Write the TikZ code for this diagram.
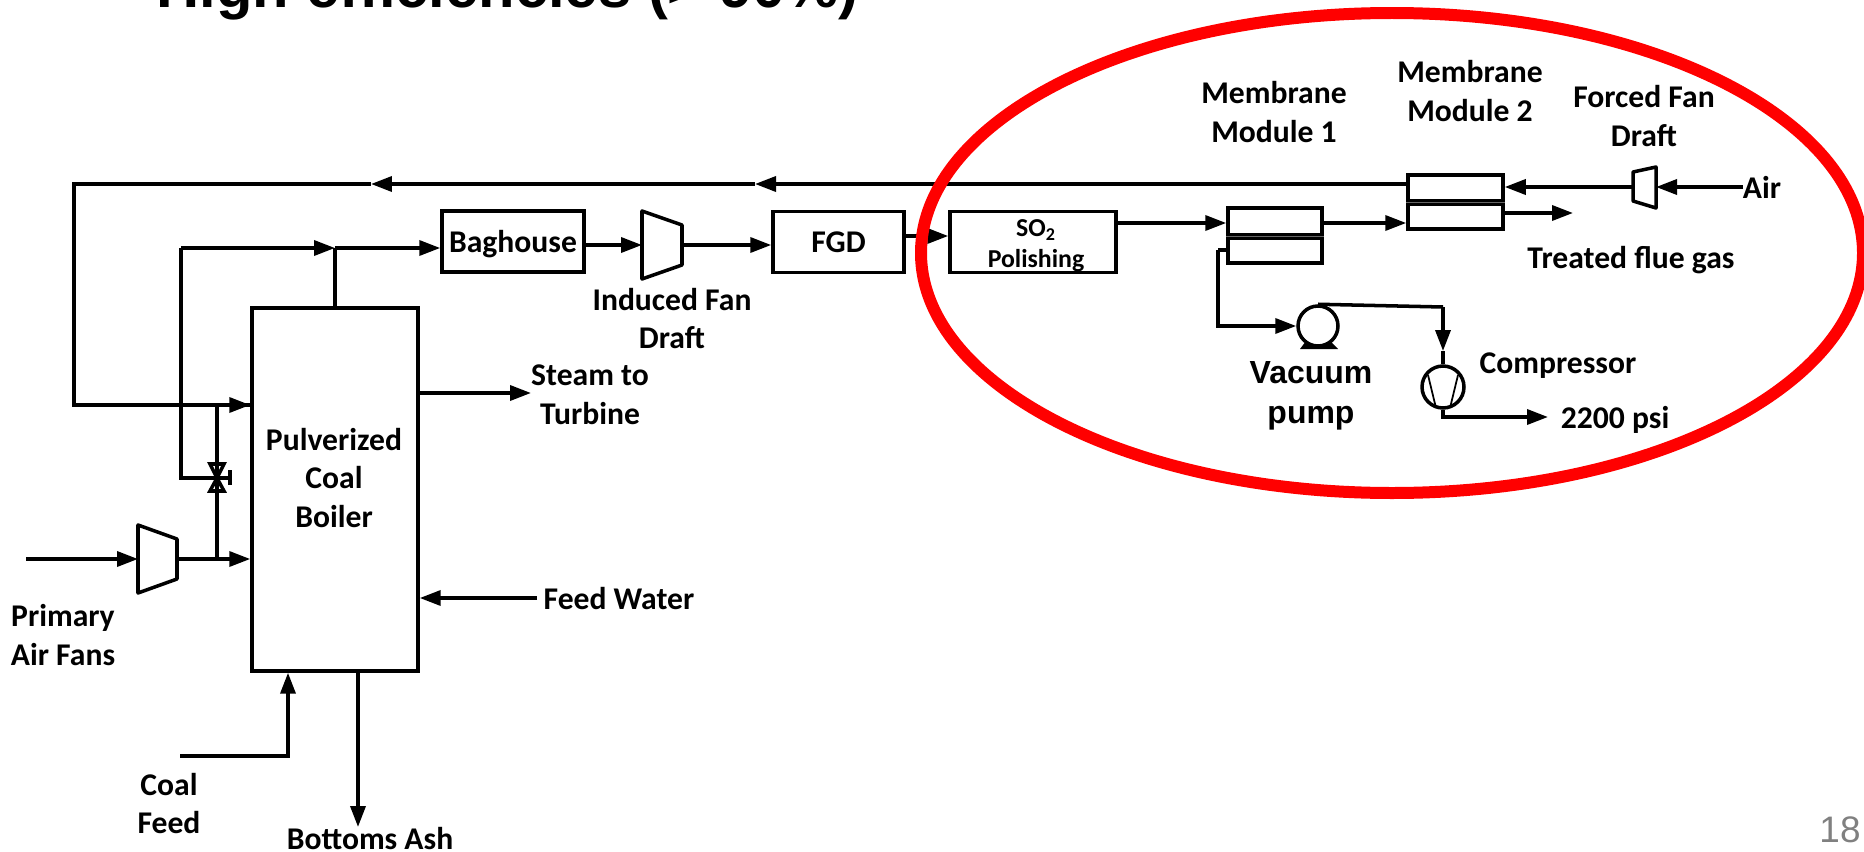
\documentclass[tikz,border=0pt]{standalone}
\usepackage{fontspec}
\setmainfont{Carlito}
\newfontfamily\arialfont{Liberation Sans}
\usetikzlibrary{arrows.meta}
\begin{document}
\begin{tikzpicture}[
  x=0.02cm,y=-0.02cm,
  line width=2pt,
  font=\fontsize{18}{22}\selectfont\bfseries,
  hop/.style={draw,inner sep=0pt,text depth=0pt,minimum height=1.22cm},
  mang/.style={draw,inner sep=0pt},
  nhan/.style={inner sep=0pt,align=center},
  mui/.style={-{Triangle[length=0.42cm,width=0.3cm]}},
  bom/.style={draw,circle,inner sep=0pt,minimum size=0.8cm},
  vien/.style={draw=red,line width=0.24cm}
]
\useasboundingbox (0,0) rectangle (1864,852);

% main units
\node[hop,minimum width=3.32cm,minimum height=7.26cm] (boiler) at (335,489.5) {};
\node[nhan] (boilertxt) at (334,478) {Pulverized\\Coal\\Boiler};
\node[hop,minimum width=2.84cm] (bag) at (513,241.5) {Baghouse};
\node[hop,minimum width=2.62cm] (fgd) at (838.5,242) {FGD};
\node[hop,minimum width=3.32cm] (so2) at (1033,242) {};
\node[nhan,font=\fontsize{14.7}{17.6}\selectfont\bfseries] (so2txt) at (1036,246) {SO\textsubscript{2}\\Polishing};

% membrane modules
\node[mang,minimum width=1.88cm,minimum height=1.1cm] (mm1) at (1275,235.5) {};
\node[mang,minimum width=1.9cm,minimum height=1.08cm] (mm2) at (1455.5,202) {};
\fill (mm1.west |- 0,232.5) rectangle (mm1.east |- 0,239.5);
\fill (mm2.west |- 0,198.5) rectangle (mm2.east |- 0,205.5);
\draw[black!60,line width=0.4pt] (mm1.west |- 0,236) -- (mm1.east |- 0,236);
\draw[black!60,line width=0.4pt] (mm2.west |- 0,202) -- (mm2.east |- 0,202);

% fans
\draw[line join=round] (642,211) -- (682,225) -- (682,265) -- (642,279) -- cycle;
\draw[line join=round] (138,525) -- (177,539) -- (177,579) -- (138,593) -- cycle;
\draw[line join=round] (1656,167) -- (1633,172) -- (1633,201) -- (1656,208) -- cycle;
\coordinate (fan1in) at (642,245);
\coordinate (fan1out) at (682,245);
\coordinate (fan2in) at (1656,187);
\coordinate (fan2out) at (1633,187);
\coordinate (fan3in) at (138,559);
\coordinate (fan3out) at (177,559);

% pump and compressor
\node[bom] (pump) at (1318,326) {};
\fill (1300,349) -- (1306,341) -- (1312,346) -- (1324,346) -- (1330,341) -- (1338,349) -- cycle;
\node[bom,minimum size=0.84cm] (comp) at (1443,387) {};
\draw[line width=1pt] (1428,375) -- (1436,408) (1458,375) -- (1450,408);

% valve
\coordinate (valve) at (217,478);
\draw (valve) -- (210,464) -- (224,464) -- cycle;
\draw (valve) -- (210,491) -- (224,491) -- cycle;
\draw (valve) -- (230,478);
\draw (230,470) -- (230,485);

% free ends
\coordinate (recycle) at (74,184);
\coordinate (sideL) at (181,248);
\coordinate (stack) at (335,248);
\coordinate (airL) at (26,559);
\coordinate (coalL) at (180,756);
\coordinate (pumpbend) at (1218,250);
\coordinate (compbend) at (1443,307);

% labels
\node[nhan] (lbfan1) at (672,318.5) {Induced Fan\\Draft};
\node[nhan] (lbsteam) at (590,394.5) {Steam to\\Turbine};
\node[nhan] (lbfeed) at (619,599) {Feed Water};
\node[nhan] (lbprim) at (63,635) {Primary\\Air Fans};
\node[nhan] (lbcoal) at (169,803.5) {Coal\\Feed};
\node[nhan] (lbash) at (370,839) {Bottoms Ash};
\node[nhan] (lbmm1) at (1274,112) {Membrane\\Module 1};
\node[nhan] (lbmm2) at (1470,91) {Membrane\\Module 2};
\node[nhan] (lbfan2) at (1644,116) {Forced Fan\\Draft};
\node[nhan] (lbair) at (1762,187) {Air};
\node[nhan] (lbgas) at (1631,260) {Treated flue gas};
\node[nhan] (lbcomp) at (1558,366) {Compressor};
\node[nhan] (lbpsi) at (1615,420) {2200 psi};
\node[nhan,font=\arialfont\fontsize{18.2}{22.7}\selectfont\bfseries] (lbpump) at (1311,396) {Vacuum\\pump};

% top line and page number
\node[inner sep=0pt,anchor=base west,font=\arialfont\fontsize{34}{40}\selectfont\bfseries] (title) at (155,8) {High efficiencies (> 90\%)};
\node[inner sep=0pt,text=gray,font=\arialfont\fontsize{21}{25}\selectfont\mdseries] (page) at (1840,830) {18};

% connectors
\draw[mui] (mm2.west |- recycle) -- (755,184);
\draw[mui] (755,184) -- (371,184);
\draw (371,184) -- (recycle) |- (boiler.west |- 0,405);
\draw[mui] (recycle |- 0,405) -- (boiler.west |- 0,405);
\draw (valve) -| (sideL);
\draw[mui] (sideL) -- (stack);
\draw (boiler.north -| stack) -- (stack);
\draw[mui] (stack) -- (bag.west |- stack);
\draw[mui] (bag.east |- fan1in) -- (fan1in);
\draw[mui] (fan1out) -- (fgd.west |- fan1out);
\draw[mui] (fgd.east |- 0,236) -- (so2.west |- 0,236);
\draw[mui] (so2.east |- 0,223) -- (mm1.west |- 0,223);
\draw[mui] (mm1.east |- 0,223) -- (mm2.west |- 0,223);
\draw[mui] (1743,187) -- (fan2in);
\draw[mui] (fan2out) -- (mm2.east |- fan2out);
\draw[mui] (mm2.east |- 0,213) -- (1573,213);
\draw (mm1.west |- pumpbend) -- (pumpbend);
\draw[mui] (pumpbend) |- (pump.west);
\draw (pump.north) -- (compbend);
\draw[mui] (compbend) -- (1443,351);
\draw (1443,351) -- (comp.north);
\draw[mui] (comp.south) |- (1548,417);
\draw[mui] (airL) -- (fan3in);
\draw[mui] (fan3out) -- (boiler.west |- fan3out);
\draw (valve |- fan3out) -- (valve);
\draw (valve) -- (valve |- 0,405);
\draw[mui] (boiler.east |- 0,393) -- (531,393);
\draw[mui] (537,598) -- (boiler.east |- 0,598);
\draw[mui] (coalL) -| (boiler.south -| 288,0);
\draw[mui] (boiler.south -| 358,0) -- (358,827);

% highlight
\draw[vien] (1392,253) ellipse [x radius=471,y radius=240];
\end{tikzpicture}
\end{document}
